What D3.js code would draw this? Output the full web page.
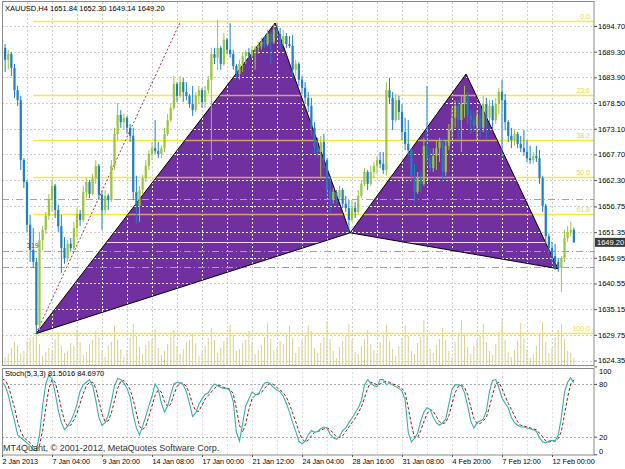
<!DOCTYPE html>
<html>
<head>
<meta charset="utf-8">
<script src="https://cdn.jsdelivr.net/npm/d3@7"></script>
<style>
body { margin: 0; background: #fff; }
svg { display: block; }
text { font-family: "Liberation Sans", Arial, sans-serif; }
</style>
</head>
<body>
<div id="chart"></div>
<script>
// XAUUSD H4 bars: [open, high, low, close]
var candles = [
[1691.8,1692.6,1688.0,1690.1],[1690.1,1690.9,1685.0,1687.6],[1687.6,1689.7,1685.5,1688.8],[1688.8,1689.2,1684.2,1685.9],
[1685.9,1686.7,1679.6,1681.2],[1681.2,1682.1,1677.9,1679.1],[1679.1,1680.0,1664.4,1666.5],[1666.5,1666.9,1660.6,1661.9],
[1661.9,1662.3,1651.4,1652.9],[1652.9,1655.0,1645.1,1647.6],[1647.6,1652.2,1643.8,1645.1],[1645.1,1645.9,1629.9,1631.8],
[1631.8,1651.4,1630.8,1649.7],[1649.7,1652.6,1647.6,1651.8],[1651.8,1655.6,1651.0,1654.8],[1654.8,1659.4,1653.9,1658.1],
[1658.1,1662.3,1655.6,1661.1],[1661.1,1661.5,1654.3,1656.0],[1656.0,1657.1,1651.4,1652.6],[1652.6,1655.0,1642.8,1648.0],
[1648.0,1650.3,1644.7,1645.9],[1645.9,1649.7,1645.1,1648.9],[1648.9,1650.1,1647.2,1648.0],[1648.0,1653.5,1647.6,1652.2],
[1652.2,1656.4,1650.1,1655.2],[1655.2,1656.0,1652.6,1653.9],[1653.9,1661.1,1653.5,1659.8],[1659.8,1662.7,1658.5,1661.9],
[1661.9,1662.3,1658.5,1659.4],[1659.4,1663.6,1659.0,1662.7],[1662.7,1666.5,1661.5,1665.3],[1665.3,1665.7,1658.1,1659.2],
[1659.2,1659.8,1651.8,1656.0],[1656.0,1660.2,1655.2,1659.0],[1659.0,1659.4,1656.0,1658.1],[1658.1,1666.5,1657.7,1665.3],
[1665.3,1673.3,1664.4,1672.0],[1672.0,1678.5,1670.7,1676.0],[1676.0,1677.0,1673.3,1674.5],[1674.5,1676.2,1672.8,1675.4],
[1675.4,1675.8,1672.0,1673.3],[1673.3,1674.1,1670.3,1671.6],[1671.6,1673.3,1658.1,1659.8],[1659.8,1663.2,1653.1,1656.9],
[1656.9,1661.1,1653.5,1660.2],[1660.2,1663.4,1659.4,1662.7],[1662.7,1666.5,1661.9,1665.3],[1665.3,1668.6,1664.4,1667.8],
[1667.8,1670.3,1666.5,1669.0],[1669.0,1674.9,1667.8,1668.4],[1668.4,1670.3,1666.9,1667.8],[1667.8,1669.5,1666.9,1669.0],
[1669.0,1673.3,1668.2,1672.0],[1672.0,1676.2,1671.6,1674.9],[1674.9,1678.3,1674.5,1677.5],[1677.5,1684.2,1677.0,1682.5],
[1682.5,1682.9,1678.7,1680.0],[1680.0,1684.2,1679.6,1682.9],[1682.9,1683.8,1678.7,1680.8],[1680.8,1682.9,1679.1,1680.0],
[1680.0,1680.4,1677.5,1678.3],[1678.3,1682.1,1675.8,1677.0],[1677.0,1680.8,1676.6,1680.0],[1680.0,1682.1,1678.3,1681.2],
[1681.2,1681.7,1677.5,1678.7],[1678.7,1682.1,1677.5,1681.2],[1681.2,1684.2,1680.4,1683.4],[1683.4,1690.1,1666.5,1688.8],
[1688.8,1690.1,1686.7,1688.0],[1688.0,1696.0,1685.5,1690.1],[1690.1,1690.5,1685.5,1686.7],[1686.7,1693.2,1686.3,1691.8],
[1691.8,1692.2,1688.8,1689.7],[1689.7,1695.3,1688.0,1688.8],[1688.8,1689.7,1685.5,1686.3],[1686.3,1686.7,1683.8,1684.6],
[1684.6,1687.6,1683.4,1686.7],[1686.7,1689.2,1685.0,1688.4],[1688.4,1689.7,1686.7,1689.2],[1689.2,1690.1,1687.6,1688.4],
[1688.4,1690.5,1688.0,1689.7],[1689.7,1690.5,1685.5,1690.1],[1690.1,1691.3,1688.8,1690.5],[1690.5,1692.2,1689.7,1691.3],
[1691.3,1692.6,1690.1,1690.9],[1690.9,1693.9,1690.5,1693.0],[1693.0,1693.4,1686.7,1691.3],[1691.3,1695.1,1690.9,1693.9],
[1693.9,1695.3,1692.2,1693.0],[1693.0,1694.3,1689.7,1690.9],[1690.9,1693.9,1690.5,1692.6],[1692.6,1693.2,1690.1,1690.9],
[1690.9,1692.6,1690.1,1690.5],[1690.5,1692.8,1683.8,1685.5],[1685.5,1687.6,1684.2,1686.7],[1686.7,1687.1,1682.1,1683.4],
[1683.4,1684.2,1680.4,1681.7],[1681.7,1682.9,1678.3,1679.6],[1679.6,1680.8,1676.6,1677.9],[1677.9,1679.6,1671.6,1673.3],
[1673.3,1674.5,1667.8,1669.0],[1669.0,1671.2,1666.9,1668.2],[1668.2,1671.6,1662.7,1670.3],[1670.3,1672.0,1664.8,1666.5],
[1666.5,1666.9,1658.5,1660.2],[1660.2,1663.2,1655.2,1658.1],[1658.1,1660.6,1657.3,1659.8],[1659.8,1660.2,1657.3,1658.5],
[1658.5,1661.1,1657.7,1660.2],[1660.2,1660.6,1656.4,1657.3],[1657.3,1659.0,1655.6,1656.4],[1656.4,1658.1,1651.2,1653.9],
[1653.9,1658.1,1653.5,1656.4],[1656.4,1657.7,1654.3,1655.6],[1655.6,1660.2,1655.2,1659.0],[1659.0,1662.3,1658.5,1661.5],
[1661.5,1664.8,1661.1,1664.0],[1664.0,1664.4,1660.2,1661.5],[1661.5,1665.3,1661.1,1664.0],[1664.0,1666.1,1662.7,1665.3],
[1665.3,1667.4,1663.6,1666.5],[1666.5,1668.2,1664.8,1665.7],[1665.7,1668.2,1663.6,1664.4],[1664.4,1682.9,1663.2,1681.2],
[1681.2,1683.8,1678.3,1679.6],[1679.6,1680.8,1672.8,1674.9],[1674.9,1680.4,1674.5,1679.1],[1679.1,1680.0,1674.9,1676.6],
[1676.6,1678.3,1670.7,1672.4],[1672.4,1675.4,1668.6,1669.9],[1669.9,1674.9,1667.4,1668.6],[1668.6,1669.0,1661.9,1663.2],
[1663.2,1665.7,1657.7,1659.8],[1659.8,1664.0,1659.4,1662.7],[1662.7,1664.4,1659.8,1661.5],[1661.5,1671.2,1661.1,1669.5],
[1669.5,1682.1,1665.3,1666.9],[1666.9,1669.0,1664.0,1664.8],[1664.8,1669.0,1664.0,1667.4],[1667.4,1670.7,1664.4,1669.0],
[1669.0,1671.2,1666.1,1670.3],[1670.3,1671.2,1661.9,1664.0],[1664.0,1670.7,1663.2,1669.5],[1669.5,1674.1,1668.6,1672.8],
[1672.8,1677.5,1671.2,1675.4],[1675.4,1679.1,1673.3,1677.9],[1677.9,1679.1,1670.7,1674.9],[1674.9,1680.0,1668.2,1678.3],
[1678.3,1682.1,1675.4,1680.0],[1680.0,1680.8,1674.1,1675.8],[1675.8,1677.0,1672.0,1674.9],[1674.9,1676.6,1672.4,1673.7],
[1673.7,1677.0,1670.7,1675.8],[1675.8,1678.3,1671.2,1673.3],[1673.3,1680.0,1672.4,1678.3],[1678.3,1679.6,1670.7,1675.4],
[1675.4,1679.1,1674.5,1677.9],[1677.9,1679.1,1672.8,1674.9],[1674.9,1679.6,1674.1,1678.3],[1678.3,1681.7,1676.2,1680.8],
[1680.8,1683.4,1666.9,1679.1],[1679.1,1680.4,1672.8,1674.5],[1674.5,1674.9,1670.3,1671.6],[1671.6,1673.3,1669.0,1670.7],
[1670.7,1672.8,1669.5,1672.0],[1672.0,1672.4,1669.0,1669.9],[1669.9,1671.6,1668.2,1669.0],[1669.0,1672.8,1667.4,1668.2],
[1668.2,1670.7,1666.1,1666.9],[1666.9,1669.5,1665.7,1666.5],[1666.5,1668.2,1665.7,1667.4],[1667.4,1669.5,1666.1,1666.9],
[1666.9,1668.6,1661.5,1662.7],[1662.7,1663.2,1655.6,1656.9],[1656.9,1657.3,1648.9,1650.5],[1650.5,1651.0,1646.8,1648.0],
[1648.0,1649.3,1644.7,1646.3],[1646.3,1648.9,1643.4,1645.1],[1645.1,1645.9,1643.0,1643.8],[1643.8,1646.3,1638.8,1645.9],
[1645.9,1651.8,1645.1,1650.1],[1650.1,1652.6,1649.3,1651.4],[1651.4,1653.5,1650.5,1651.8],[1651.84,1652.30,1649.14,1649.20]
];

var volumes = [
600,900,1200,1800,2400,2000,1200,1500,2500,2800,2900,
3900,2200,1000,1400,1800,1600,2700,
3400,2000,1300,1500,2300,2000,
3600,2400,1100,1400,2200,2600,
3500,2900,1500,900,2000,2400,
4000,2600,1700,900,1600,2800,
4200,3000,1900,1200,2100,2500,
2700,3700,1800,1100,1500,2200,
2900,3600,2000,1200,1700,2400,
2600,3300,2300,1000,1500,2000,
2800,3800,2600,1300,1800,2500,
2900,4100,3100,1500,1700,2300,
2600,3500,2400,1200,1600,2100,
2900,4300,2700,1600,1800,2500,
2200,3000,4000,2800,1300,1900,
2600,3100,4100,3500,1800,1300,
2300,2900,4500,2700,1500,800,
1900,2500,3000,4200,2600,1400,
1200,2000,2700,3600,2200,1600,
1300,2400,3100,4100,2500,1700,
1000,2000,2800,4100,3000,1500,
1200,2300,2900,4600,3000,1700,
1300,2100,2700,3800,2600,1500,
900,2400,3200,4600,3100,1900,
1200,2000,2600,3000,4200,2400,
1500,1100,2200,3400,4700,2600,
1400,900,1600,2500,4300,2800,
1700,800,1200,2000,3300,4400,
2400,1300,1800,2900,3600,4200,
2700,1500,1300,800
];

// Stochastic(5,3,3): main and signal
var stochMain = [82,
78,68,52,38,22,19,16,13,10,5,
4,22,55,80,90,86,70,50,36,28,
32,38,46,57,72,79,82,85,78,62,
42,33,36,45,60,78,86,85,81,75,
65,45,30,22,32,43,55,66,80,74,
58,48,55,68,80,82,81,79,71,58,
43,47,57,63,68,70,76,80,78,76,
75,75,72,60,25,15,35,55,63,71,
68,68,75,81,82,79,76,73,71,66,
58,48,36,26,15,12,15,22,27,25,
26,29,31,30,23,19,17,20,27,30,
36,41,47,53,61,79,85,81,78,77,
85,85,79,81,79,77,75,72,62,25,
14,18,24,38,48,53,51,42,36,33,
36,40,57,74,79,79,78,70,55,38,
30,36,38,40,49,72,84,85,76,64,
58,53,42,36,33,31,31,30,29,28,
26,19,14,13,15,16,15,22,42,71,
82,87,81.5016];

var stochSignal = [86,
84,78,66,53,37,26,19,16,13,9,
6,10,27,52,75,85,82,69,52,38,
32,33,39,47,58,69,78,82,82,75,
61,46,37,38,47,61,75,83,84,80,
74,62,47,32,28,32,43,55,67,73,
71,60,54,57,68,77,81,81,77,69,
57,49,49,56,63,67,71,75,78,78,
76,75,74,69,52,33,25,35,51,63,
67,69,70,75,79,81,79,76,73,70,
65,57,47,37,26,18,14,16,21,25,
26,27,29,30,28,24,20,19,21,26,
31,36,41,47,54,64,75,82,81,79,
80,82,83,82,80,79,77,75,70,53,
34,19,19,27,37,46,51,49,43,37,
35,36,44,57,70,77,79,76,68,54,
41,35,35,38,42,54,68,80,82,75,
66,58,51,44,37,33,32,31,30,29,
28,24,20,15,14,15,15,18,26,45,
65,80,84.6970];

var timeLabels = ["2 Jan 2013", "7 Jan 04:00", "9 Jan 20:00", "14 Jan 08:00", "17 Jan 00:00", "21 Jan 12:00",
    "24 Jan 04:00", "28 Jan 16:00", "31 Jan 08:00", "4 Feb 20:00", "7 Feb 12:00", "12 Feb 00:00"];
var priceTicks = [1694.70, 1689.30, 1683.90, 1678.50, 1673.10, 1667.70, 1662.30, 1656.75,
    1651.35, 1645.95, 1640.55, 1635.15, 1629.75, 1624.35];
var stochTicks = [100, 80, 20, 0];
var stochLevels = [80, 20];

// Fibonacci retracement and harmonic pattern objects
var fibLevels = [0, 23.6, 38.2, 50.0, 61.8, 100.0];
var fibHigh = 1695.75, fibLow = 1630.03, fibStartBar = 10;
var levelLines = [1658.32, 1647.38, 1644.02];
var pattern = [
    {bar: 10.9, price: 1630.0},   // X
    {bar: 87.4, price: 1695.33},  // A
    {bar: 111.4, price: 1651.2},  // B
    {bar: 148.5, price: 1684.6},  // C
    {bar: 177.9, price: 1643.65}  // D
];
var trendLine = [{bar: 10.9, price: 1630.0}, {bar: 57, price: 1695.5}];
var lastPrice = 1649.20;

var bull = "#9cc43c", bear = "#1f7fc1";

var svg = d3.select("#chart").append("svg")
        .attr("width", 625)
        .attr("height", 469);

svg.append("rect").attr("width", 625).attr("height", 469).attr("fill", "#fff");

var x = d3.scaleLinear().domain([0, 16]).range([2, 52]);
var y = d3.scaleLinear().domain([1624.35, 1694.70]).range([360.5, 26]);
var yv = d3.scaleLinear().domain([0, 5000]).range([366, 316]);
var ys = d3.scaleLinear().domain([0, 100]).range([454.3, 366.4]);

var defs = svg.append("defs");
defs.append("clipPath").attr("id", "mainClip").append("rect")
        .attr("x", 2).attr("y", 2).attr("width", 592).attr("height", 364);
defs.append("clipPath").attr("id", "stochClip").append("rect")
        .attr("x", 2).attr("y", 368).attr("width", 592).attr("height", 87);

var pts = pattern.map(function (d) { return [x(d.bar), y(d.price)]; });
var triangles = [[pts[0], pts[1], pts[2]], [pts[2], pts[3], pts[4]]];
defs.append("clipPath").attr("id", "triClip")
        .selectAll("polygon").data(triangles).join("polygon")
        .attr("points", function (d) { return d.join(" "); });

var gridBars = d3.range(8, 184, 8);

var main = svg.append("g").attr("clip-path", "url(#mainClip)");

function drawGrid(g, color) {
    g.selectAll(".hg").data(priceTicks).join("line").attr("class", "hg")
            .attr("x1", 2).attr("x2", 594)
            .attr("y1", function (d) { return Math.round(y(d)) + 0.5; })
            .attr("y2", function (d) { return Math.round(y(d)) + 0.5; })
            .attr("stroke", color).attr("stroke-dasharray", "2,2");
    g.selectAll(".vg").data(gridBars).join("line").attr("class", "vg")
            .attr("x1", function (d) { return Math.round(x(d)) + 0.5; })
            .attr("x2", function (d) { return Math.round(x(d)) + 0.5; })
            .attr("y1", 2).attr("y2", 366)
            .attr("stroke", color).attr("stroke-dasharray", "2,2");
}

drawGrid(main.append("g"), "#cfcfcf");

// volumes
main.append("g").selectAll("line").data(volumes).join("line")
        .attr("x1", function (d, i) { return x(i); })
        .attr("x2", function (d, i) { return x(i); })
        .attr("y1", yv(0))
        .attr("y2", function (d) { return yv(d); })
        .attr("stroke", "#d8d18e").attr("stroke-width", 1);

function fibPrice(l) { return fibHigh - (fibHigh - fibLow) * l / 100; }

function drawFib(g, color) {
    g.selectAll("line").data(fibLevels).join("line")
            .attr("x1", x(fibStartBar)).attr("x2", 594)
            .attr("y1", function (d) { return Math.round(y(fibPrice(d))) + 0.5; })
            .attr("y2", function (d) { return Math.round(y(fibPrice(d))) + 0.5; })
            .attr("stroke", color).attr("stroke-width", 1.3);
}
drawFib(main.append("g"), "#f2ea3c");

// harmonic pattern fill
main.append("g").selectAll("polygon").data(triangles).join("polygon")
        .attr("points", function (d) { return d.join(" "); })
        .attr("fill", "#7030a0");

var inside = main.append("g").attr("clip-path", "url(#triClip)");
drawGrid(inside.append("g"), "#ffffff");
drawFib(inside.append("g"), "#d9a173");
inside.append("line")
        .attr("x1", 2).attr("x2", 594)
        .attr("y1", Math.round(y(lastPrice)) + 0.5).attr("y2", Math.round(y(lastPrice)) + 0.5)
        .attr("stroke", "#f2d6ee");

// dash-dot levels
main.append("g").selectAll("line").data(levelLines).join("line")
        .attr("x1", 2).attr("x2", 594)
        .attr("y1", function (d) { return Math.round(y(d)) + 0.5; })
        .attr("y2", function (d) { return Math.round(y(d)) + 0.5; })
        .attr("stroke", "#d09a68").attr("stroke-dasharray", "7,3,1,3");

// pattern outlines
var outline = d3.line().curve(d3.curveLinearClosed);
main.append("g").selectAll("path").data(triangles).join("path")
        .attr("d", outline)
        .attr("fill", "none").attr("stroke", "#000").attr("stroke-width", 1);

// trend line
main.append("line")
        .attr("x1", x(trendLine[0].bar)).attr("y1", y(trendLine[0].price))
        .attr("x2", x(trendLine[1].bar)).attr("y2", y(trendLine[1].price))
        .attr("stroke", "#a33050").attr("stroke-dasharray", "2,2");

// candles
var cg = main.append("g");
cg.selectAll("line").data(candles).join("line")
        .attr("x1", function (d, i) { return x(i); })
        .attr("x2", function (d, i) { return x(i); })
        .attr("y1", function (d) { return y(d[1]); })
        .attr("y2", function (d) { return y(d[2]); })
        .attr("stroke", function (d) { return d[3] >= d[0] ? bull : bear; });
cg.selectAll("rect").data(candles).join("rect")
        .attr("x", function (d, i) { return x(i) - 1.1; })
        .attr("width", 2.2)
        .attr("y", function (d) { return y(Math.max(d[0], d[3])); })
        .attr("height", function (d) { return Math.max(1, Math.abs(y(d[0]) - y(d[3]))); })
        .attr("fill", function (d) { return d[3] >= d[0] ? bull : bear; });

// fib labels
svg.append("g").selectAll("text").data(fibLevels).join("text")
        .attr("x", 590)
        .attr("y", function (d) { return Math.round(y(fibPrice(d))) - 2; })
        .attr("text-anchor", "end")
        .attr("font-size", "7px")
        .attr("fill", "#e3d84a")
        .text(function (d) { return d.toFixed(1); });

svg.append("text").attr("x", 27).attr("y", 248).attr("font-size", "7px").attr("fill", "#555").text("319");

// stochastic window
var st = svg.append("g").attr("clip-path", "url(#stochClip)");
st.selectAll(".vg").data(gridBars).join("line")
        .attr("x1", function (d) { return Math.round(x(d)) + 0.5; })
        .attr("x2", function (d) { return Math.round(x(d)) + 0.5; })
        .attr("y1", 368).attr("y2", 455)
        .attr("stroke", "#e2e2e2").attr("stroke-dasharray", "2,2");
st.selectAll(".lv").data(stochLevels).join("line")
        .attr("x1", 2).attr("x2", 594)
        .attr("y1", function (d) { return Math.round(ys(d)) + 0.5; })
        .attr("y2", function (d) { return Math.round(ys(d)) + 0.5; })
        .attr("stroke", "#a9a9a9").attr("stroke-dasharray", "2,2");

var sline = d3.line()
        .x(function (d, i) { return x(i); })
        .y(function (d) { return ys(d); });

st.append("path").datum(stochSignal)
        .attr("d", sline).attr("fill", "none")
        .attr("stroke", "#8e1c1c").attr("stroke-dasharray", "3,2").attr("stroke-width", 1);
st.append("path").datum(stochMain)
        .attr("d", sline).attr("fill", "none")
        .attr("stroke", "#3aaea6").attr("stroke-width", 1.1);

// borders
svg.append("rect").attr("x", 2.5).attr("y", 1.5).attr("width", 591.5).attr("height", 364)
        .attr("fill", "none").attr("stroke", "#8a8a8a");
svg.append("rect").attr("x", 2.5).attr("y", 368.5).attr("width", 591.5).attr("height", 86.5)
        .attr("fill", "none").attr("stroke", "#8a8a8a");

// price axis
var pa = svg.append("g").attr("transform", "translate(594,0)")
        .call(d3.axisRight(y).tickValues(priceTicks).tickSize(3).tickPadding(1)
        .tickFormat(d3.format(".2f")));
pa.select(".domain").remove();
pa.selectAll("text").attr("font-size", "7.5px").attr("fill", "#000").attr("font-family", "Liberation Sans, Arial, sans-serif");
pa.selectAll("line").attr("stroke", "#555");

// last price marker
svg.append("rect").attr("x", 595).attr("y", y(lastPrice) - 4.5).attr("width", 30).attr("height", 9).attr("fill", "#3a3a3a");
svg.append("text").attr("x", 597).attr("y", y(lastPrice) + 3).attr("font-size", "7.5px").attr("fill", "#fff").text(lastPrice.toFixed(2));

// stochastic axis
var sa = svg.append("g").attr("transform", "translate(594,0)")
        .call(d3.axisRight(ys).tickValues(stochTicks).tickSize(3).tickPadding(2));
sa.select(".domain").remove();
sa.selectAll("text").attr("font-size", "7.5px").attr("fill", "#000").attr("font-family", "Liberation Sans, Arial, sans-serif")
        .attr("dy", function (d) { return d === 100 ? "0.9em" : (d === 0 ? "-0.1em" : "0.32em"); });
sa.selectAll("line").attr("stroke", "#555");

// time axis
var ta = svg.append("g").attr("transform", "translate(0,455)")
        .call(d3.axisBottom(x).tickValues(d3.range(0, 184, 16)).tickSize(2).tickPadding(2)
        .tickFormat(function (d, i) { return timeLabels[i]; }));
ta.select(".domain").remove();
ta.selectAll("text").attr("text-anchor", "start").attr("font-size", "7.2px").attr("fill", "#000")
        .attr("font-family", "Liberation Sans, Arial, sans-serif");
ta.selectAll("line").attr("stroke", "#555");

// titles
svg.append("text").attr("x", 5).attr("y", 11).attr("font-size", "7.5px").attr("fill", "#000")
        .text("XAUUSD,H4  1651.84 1652.30 1649.14 1649.20");
svg.append("text").attr("x", 5).attr("y", 376).attr("font-size", "7.5px").attr("fill", "#000")
        .text("Stoch(5,3,3) 81.5016 84.6970");
svg.append("text").attr("x", 3).attr("y", 451).attr("font-size", "9px").attr("fill", "#333")
        .text("MT4Quant, \u00a9 2001-2012, MetaQuotes Software Corp.");
</script>
</body>
</html>
